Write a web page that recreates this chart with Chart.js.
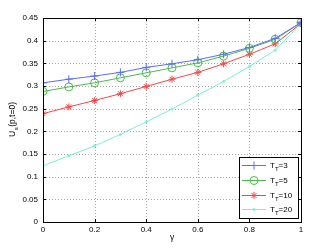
<!DOCTYPE html>
<html>
<head>
<meta charset="utf-8">
<script src="https://cdn.jsdelivr.net/npm/chart.js@4/dist/chart.umd.min.js"></script>
<style>
html,body{margin:0;padding:0;background:#fff;}
#wrap{width:332px;height:250px;}
</style>
</head>
<body>
<div id="wrap"><canvas id="c" width="332" height="250"></canvas></div>
<script>
const gamma = [0, 0.1, 0.2, 0.3, 0.4, 0.5, 0.6, 0.7, 0.8, 0.9, 1.0];
const seriesT3  = [0.307, 0.315, 0.322, 0.330, 0.341, 0.349, 0.358, 0.370, 0.385, 0.405, 0.440];
const seriesT5  = [0.288, 0.298, 0.307, 0.318, 0.329, 0.340, 0.351, 0.366, 0.383, 0.403, 0.440];
const seriesT10 = [0.239, 0.254, 0.268, 0.283, 0.299, 0.315, 0.330, 0.349, 0.370, 0.393, 0.438];
const seriesT20 = [0.124, 0.146, 0.168, 0.193, 0.221, 0.249, 0.280, 0.310, 0.343, 0.379, 0.438];
const legendValues = ['3', '5', '10', '20'];
const xTicks = [0, 0.2, 0.4, 0.6, 0.8, 1];
const yTicks = [0, 0.05, 0.1, 0.15, 0.2, 0.25, 0.3, 0.35, 0.4, 0.45];

const FONT = '"Liberation Sans", Arial, sans-serif';
const styles = [
  {color:'#5b6ef8', point:'cross', radius:4},
  {color:'#4cbb4c', point:'circle', radius:4},
  {color:'#f44848', point:'star', radius:3.5},
  {color:'#7af3c6', point:'circle', radius:1}
];
const allSeries = [seriesT3, seriesT5, seriesT10, seriesT20];

const datasets = allSeries.map((s, i) => ({
  label: 'T_T=' + legendValues[i],
  data: gamma.map((g, k) => ({x: g, y: s[k]})),
  borderColor: styles[i].color,
  backgroundColor: i === 3 ? styles[i].color : 'rgba(0,0,0,0)',
  pointBorderColor: styles[i].color,
  pointBackgroundColor: i === 3 ? styles[i].color : 'rgba(0,0,0,0)',
  pointStyle: styles[i].point,
  pointRadius: styles[i].radius,
  pointBorderWidth: 1,
  borderWidth: 1,
  tension: 0,
  fill: false
}));

function drawMarker(ctx, st, x, y) {
  ctx.save();
  ctx.strokeStyle = st.color;
  ctx.fillStyle = st === styles[3] ? st.color : 'rgba(0,0,0,0)';
  ctx.lineWidth = 1;
  Chart.helpers.drawPoint(ctx, {pointStyle: st.point, radius: st.radius, rotation: 0, borderWidth: 1}, x, y);
  ctx.restore();
}

const decor = {
  id: 'decor',
  beforeDatasetsDraw(chart) {
    const ctx = chart.ctx;
    const a = chart.chartArea;
    const xs = chart.scales.x, ys = chart.scales.y;
    ctx.save();
    ctx.strokeStyle = '#a8a8a8';
    ctx.lineWidth = 1;
    ctx.setLineDash([1, 2]);
    ctx.beginPath();
    xTicks.forEach(v => {
      const px = Math.round(xs.getPixelForValue(v)) + 0.5;
      ctx.moveTo(px, a.top); ctx.lineTo(px, a.bottom);
    });
    yTicks.forEach(v => {
      const py = Math.round(ys.getPixelForValue(v)) + 0.5;
      ctx.moveTo(a.left, py); ctx.lineTo(a.right, py);
    });
    ctx.stroke();
    ctx.restore();
  },
  afterDraw(chart) {
    const ctx = chart.ctx;
    const a = chart.chartArea;
    const xs = chart.scales.x, ys = chart.scales.y;
    ctx.save();
    // inward tick marks
    ctx.strokeStyle = '#000';
    ctx.lineWidth = 1;
    ctx.beginPath();
    xTicks.forEach(v => {
      const px = Math.round(xs.getPixelForValue(v)) + 0.5;
      ctx.moveTo(px, a.bottom); ctx.lineTo(px, a.bottom - 3);
      ctx.moveTo(px, a.top); ctx.lineTo(px, a.top + 3);
    });
    yTicks.forEach(v => {
      const py = Math.round(ys.getPixelForValue(v)) + 0.5;
      ctx.moveTo(a.left, py); ctx.lineTo(a.left + 3, py);
      ctx.moveTo(a.right, py); ctx.lineTo(a.right - 3, py);
    });
    ctx.stroke();
    // box
    ctx.strokeRect(Math.round(a.left) + 0.5, Math.round(a.top) + 0.5, Math.round(a.right - a.left), Math.round(a.bottom - a.top));

    // x title
    ctx.fillStyle = '#000';
    ctx.font = '8.5px ' + FONT;
    ctx.textAlign = 'center';
    ctx.textBaseline = 'middle';
    ctx.fillText('\u03B3', (a.left + a.right) / 2, 238);

    // y title with subscript
    ctx.save();
    ctx.translate(12, (a.top + a.bottom) / 2);
    ctx.rotate(-Math.PI / 2);
    ctx.textBaseline = 'alphabetic';
    ctx.textAlign = 'left';
    const big = '8.5px ' + FONT, small = '6px ' + FONT;
    ctx.font = big; const wU = ctx.measureText('U').width;
    ctx.font = small; const wS = ctx.measureText('s').width;
    ctx.font = big; const wR = ctx.measureText('(p,t=0)').width;
    let x0 = -(wU + wS + wR) / 2;
    ctx.font = big; ctx.fillText('U', x0, 3);
    ctx.font = small; ctx.fillText('s', x0 + wU + 0.5, 6);
    ctx.font = big; ctx.fillText('(p,t=0)', x0 + wU + wS + 1, 3);
    ctx.restore();

    // legend
    const lx = 239, ly = 157, lw = 59, lh = 61;
    ctx.fillStyle = '#fff';
    ctx.fillRect(lx, ly, lw, lh);
    ctx.strokeStyle = '#000';
    ctx.strokeRect(lx + 0.5, ly + 0.5, lw, lh);
    const rows = [165.5, 180.5, 195.5, 209.5];
    const lbig = '8px ' + FONT, lsmall = '6px ' + FONT;
    rows.forEach((ry, i) => {
      const st = styles[i];
      ctx.strokeStyle = st.color;
      ctx.lineWidth = 1;
      ctx.beginPath();
      ctx.moveTo(242, ry); ctx.lineTo(266, ry);
      ctx.stroke();
      drawMarker(ctx, st, 254, ry);
      ctx.fillStyle = '#000';
      ctx.textAlign = 'left';
      ctx.textBaseline = 'alphabetic';
      ctx.font = lbig; const wT = ctx.measureText('T').width;
      ctx.fillText('T', 270, ry + 2.5);
      ctx.font = lsmall; const wt = ctx.measureText('T').width;
      ctx.fillText('T', 270 + wT, ry + 5.5);
      ctx.font = lbig;
      ctx.fillText('=' + legendValues[i], 270 + wT + wt, ry + 2.5);
    });
    ctx.restore();
  }
};

new Chart(document.getElementById('c'), {
  type: 'line',
  data: {datasets},
  plugins: [decor],
  options: {
    responsive: false,
    animation: false,
    devicePixelRatio: 1,
    layout: {padding: {top: 18, right: 31, left: 0, bottom: 0}},
    plugins: {legend: {display: false}, tooltip: {enabled: false}},
    scales: {
      x: {
        type: 'linear', min: 0, max: 1,
        afterFit(s) { s.height = 28; },
        afterBuildTicks(s) { s.ticks = xTicks.map(v => ({value: v})); },
        ticks: {
          font: {family: FONT, size: 8}, color: '#000', padding: 3,
          maxRotation: 0, autoSkip: false,
          callback: v => String(+v.toFixed(2))
        },
        grid: {display: true, drawOnChartArea: false, drawTicks: false, color: 'rgba(0,0,0,0)'},
        border: {display: false}
      },
      y: {
        type: 'linear', min: 0, max: 0.45,
        afterFit(s) { s.width = 43; },
        afterBuildTicks(s) { s.ticks = yTicks.map(v => ({value: v})); },
        ticks: {
          font: {family: FONT, size: 8}, color: '#000', padding: 5,
          autoSkip: false,
          callback: v => String(+v.toFixed(2))
        },
        grid: {display: true, drawOnChartArea: false, drawTicks: false, color: 'rgba(0,0,0,0)'},
        border: {display: false}
      }
    }
  }
});
</script>
</body>
</html>
